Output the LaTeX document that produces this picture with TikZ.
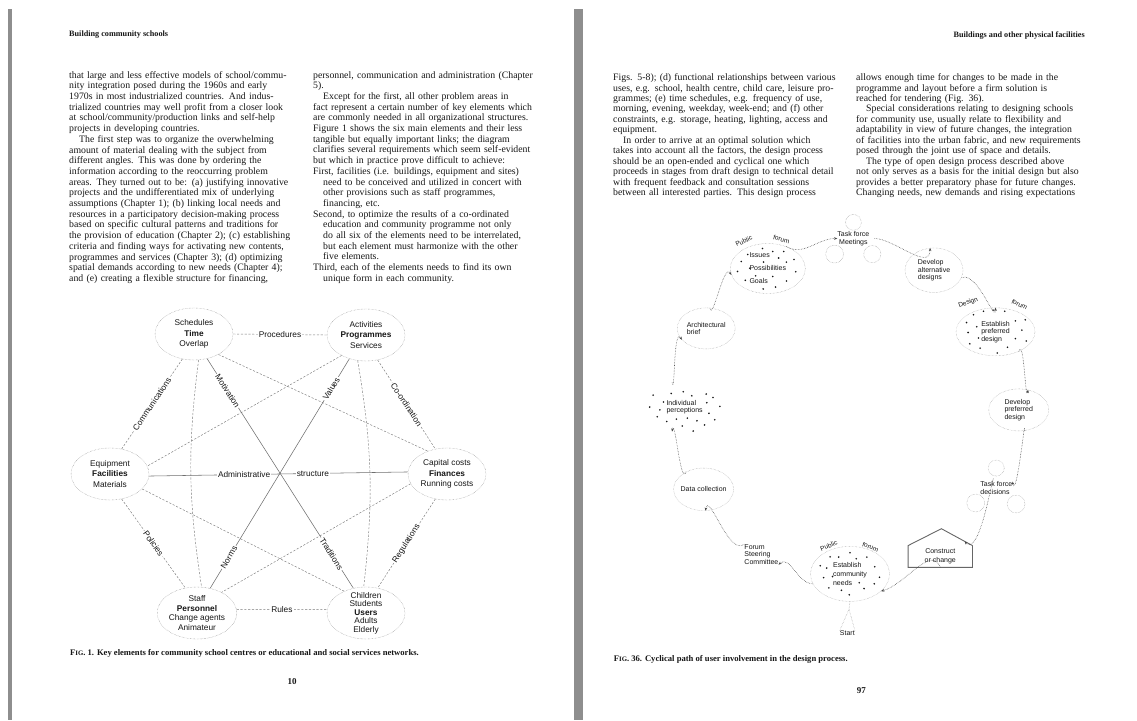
\documentclass[tikz,border=0pt]{standalone}
\usepackage{fontspec}
\setmainfont{Liberation Serif}
\setsansfont{Liberation Sans}
\usetikzlibrary{shapes.geometric,arrows.meta}

\definecolor{ink}{HTML}{161616}
\definecolor{gutter}{HTML}{8E8E8E}
\definecolor{pencil}{HTML}{7A7A7A}

% justified line, indented justified line, indented short line
\newcommand\jl[1]{\makebox[\hsize][s]{#1}}
\newcommand\ji[1]{\hspace*{10pt}\makebox[\dimexpr\hsize-10pt\relax][s]{#1}}
\newcommand\li[1]{\hspace*{10pt}#1}

\tikzset{
  textcol/.style={anchor=north west, inner sep=0pt, text width=#1, align=left, text=ink, font=\fontsize{9.8}{10.7}\selectfont},
  runhead/.style={inner sep=0pt, text=ink, font=\bfseries\fontsize{8.2}{9}\selectfont},
  figcap/.style={anchor=west, inner sep=0pt, text=ink, font=\bfseries\fontsize{8.6}{9}\selectfont},
  folio/.style={inner sep=0pt, text=ink, font=\bfseries\fontsize{9}{10}\selectfont},
  element/.style={ellipse, draw=pencil, densely dotted, minimum width=78pt, minimum height=52pt, inner sep=0pt, align=center, text=ink, font=\sffamily\fontsize{8.3}{10.6}\selectfont},
  link/.style={draw=pencil, dash pattern=on 2.2pt off 1.6pt, line width=0.45pt},
  bond/.style={draw=pencil!90!black, line width=0.55pt},
  linklabel/.style={fill=white, inner sep=1.2pt, text=ink, font=\sffamily\fontsize{8.3}{9}\selectfont},
  stage/.style={ellipse, draw=pencil!80, densely dotted, inner sep=0pt, align=left, text=ink, font=\sffamily\fontsize{7}{7.6}\selectfont},
  note/.style={inner sep=0pt, align=left, text=ink, font=\sffamily\fontsize{7}{7.6}\selectfont},
  arcword/.style={inner sep=0pt, text=ink, font=\sffamily\fontsize{6.5}{7}\selectfont},
  flow/.style={draw=ink!80, densely dotted, line width=0.55pt, -{Stealth[length=3.2pt,width=2.6pt]}},
  huddle/.style={draw=pencil!80, densely dotted, line width=0.45pt},
}

\begin{document}
\begin{tikzpicture}[x=1pt, y=-1pt]
\useasboundingbox (0,0) rectangle (1137,720);

% page edges
\fill[gutter] (8,9) rectangle (12,720);
\fill[gutter] (574,9) rectangle (583,720);

% ---------------- page 10 ----------------
\node[runhead, anchor=west] (headL) at (69,35) {Building community schools};

\node[textcol=228pt] (colA) at (69,71) {%
\jl{that large and less effective models of school/commu-}\\
\jl{nity integration posed during the 1960s and early}\\
\jl{1970s in most industrialized countries. And indus-}\\
\jl{trialized countries may well profit from a closer look}\\
\jl{at school/community/production links and self-help}\\
projects in developing countries.\\
\ji{The first step was to organize the overwhelming}\\
\jl{amount of material dealing with the subject from}\\
\jl{different angles. This was done by ordering the}\\
\jl{information according to the reoccurring problem}\\
\jl{areas. They turned out to be: (a) justifying innovative}\\
\jl{projects and the undifferentiated mix of underlying}\\
\jl{assumptions (Chapter 1); (b) linking local needs and}\\
\jl{resources in a participatory decision-making process}\\
\jl{based on specific cultural patterns and traditions for}\\
\jl{the provision of education (Chapter 2); (c) establishing}\\
\jl{criteria and finding ways for activating new contents,}\\
\jl{programmes and services (Chapter 3); (d) optimizing}\\
\jl{spatial demands according to new needs (Chapter 4);}\\
\jl{and (e) creating a flexible structure for financing,}};

\node[textcol=231pt] (colB) at (313,71) {%
\jl{personnel, communication and administration (Chapter}\\
5).\\
\ji{Except for the first, all other problem areas in}\\
\jl{fact represent a certain number of key elements which}\\
\jl{are commonly needed in all organizational structures.}\\
\jl{Figure 1 shows the six main elements and their less}\\
\jl{tangible but equally important links; the diagram}\\
\jl{clarifies several requirements which seem self-evident}\\
\jl{but which in practice prove difficult to achieve:}\\
\jl{First, facilities (i.e. buildings, equipment and sites)}\\
\ji{need to be conceived and utilized in concert with}\\
\ji{other provisions such as staff programmes,}\\
\li{financing, etc.}\\
\jl{Second, to optimize the results of a co-ordinated}\\
\ji{education and community programme not only}\\
\ji{do all six of the elements need to be interrelated,}\\
\ji{but each element must harmonize with the other}\\
\li{five elements.}\\
\jl{Third, each of the elements needs to find its own}\\
\li{unique form in each community.}};

% figure 1
\node[element] (time) at (194,334) {Schedules\\\textbf{Time}\\Overlap};
\node[element] (prog) at (366,335) {Activities\\\textbf{Programmes}\\Services};
\node[element] (fac) at (110,474) {Equipment\\\textbf{Facilities}\\Materials};
\node[element] (fin) at (447,474) {Capital costs\\\textbf{Finances}\\Running costs};
\node[element, font=\sffamily\fontsize{8.3}{9.5}\selectfont] (pers) at (197,613) {Staff\\\textbf{Personnel}\\Change agents\\Animateur};
\node[element, inner ysep=-5pt, font=\sffamily\fontsize{8.3}{8.5}\selectfont] (users) at (366,613) {Children\\Students\\\textbf{Users}\\Adults\\Elderly};

\draw[link] (time.-40) -- (fin.130);
\draw[link] (prog.-140) -- (fac.12);
\draw[link] (fac.-25) -- (users.135);
\draw[link] (fin.-165) -- (pers.40);
\draw[link] (time.-80) to[bend right=8] (pers.80);
\draw[link] (prog.-108) to[bend left=8] (users.95);

\draw[bond] (fac.-3) -- node[linklabel, pos=0.367] (admin) {Administrative}
  node[linklabel, pos=0.633] (struct) {structure} (fin.177);
\draw[bond] (time.-62) -- node[linklabel, sloped, pos=0.14] (motiv) {Motivation}
  node[linklabel, sloped, pos=0.85] (trad) {Traditions} (users.117);
\draw[bond] (prog.-125) -- node[linklabel, sloped, pos=0.13] (vals) {Values}
  node[linklabel, sloped, pos=0.865] (norms) {Norms} (pers.62);

\draw[link] (time.east) -- node[linklabel] (proc) {Procedures} (prog.west);
\draw[link] (time.-115) -- node[linklabel, sloped] (comm) {Communications} (fac.65);
\draw[link] (prog.-65) -- node[linklabel, sloped] (coord) {Co-ordination} (fin.115);
\draw[link] (fac.-65) -- node[linklabel, sloped] (pol) {Policies} (pers.115);
\draw[link] (fin.-115) -- node[linklabel, sloped] (regs) {Regulations} (users.65);
\draw[link] (pers.5) -- node[linklabel] (rules) {Rules} (users.175);

\node[figcap] (capA) at (70,653) {F{\fontsize{6.8}{7}\selectfont IG}. 1. Key elements for community school centres or educational and social services networks.};
\node[folio] (pageA) at (292,682) {10};

% ---------------- page 97 ----------------
\node[runhead, anchor=east] (headR) at (1085,36) {Buildings and other physical facilities};

\node[textcol=225pt, font=\fontsize{9.8}{10.45}\selectfont] (colC) at (613,73.5) {%
\jl{Figs. 5-8); (d) functional relationships between various}\\
\jl{uses, e.g. school, health centre, child care, leisure pro-}\\
\jl{grammes; (e) time schedules, e.g. frequency of use,}\\
\jl{morning, evening, weekday, week-end; and (f) other}\\
\jl{constraints, e.g. storage, heating, lighting, access and}\\
equipment.\\
\ji{In order to arrive at an optimal solution which}\\
\jl{takes into account all the factors, the design process}\\
\jl{should be an open-ended and cyclical one which}\\
\jl{proceeds in stages from draft design to technical detail}\\
\jl{with frequent feedback and consultation sessions}\\
\jl{between all interested parties. This design process}};

\node[textcol=228pt, font=\fontsize{9.8}{10.45}\selectfont] (colD) at (856,73.5) {%
\jl{allows enough time for changes to be made in the}\\
\jl{programme and layout before a firm solution is}\\
reached for tendering (Fig. 36).\\
\ji{Special considerations relating to designing schools}\\
\jl{for community use, usually relate to flexibility and}\\
\jl{adaptability in view of future changes, the integration}\\
\jl{of facilities into the urban fabric, and new requirements}\\
posed through the joint use of space and details.\\
\ji{The type of open design process described above}\\
\jl{not only serves as a basis for the initial design but also}\\
\jl{provides a better preparatory phase for future changes.}\\
\jl{Changing needs, new demands and rising expectations}};

% figure 36
\node[stage, minimum width=75pt, minimum height=50pt, font=\sffamily\fontsize{7}{13}\selectfont] (forum) at (767.8,268.5) {Issues\\Possibilities\\Goals};
\node[note, align=center] (meet) at (853.4,238.5) {Task force\\Meetings};
\node[stage, minimum width=58pt, minimum height=44.5pt] (devalt) at (934,270.2) {Develop\\alternative\\designs};
\node[stage, minimum width=79pt, minimum height=48pt] (estpref) at (995.5,331.8) {Establish\\preferred\\design};
\node[stage, minimum width=60pt, minimum height=42pt] (devpref) at (1018.7,409.9) {Develop\\preferred\\design};
\node[note] (decide) at (996.4,488.2) {Task force\\decisions};
\node[minimum width=64pt, minimum height=21.3pt, inner sep=0pt, align=center, text=ink, font=\sffamily\fontsize{7}{8.5}\selectfont] (build) at (940.25,556.45) {Construct\\or change};
\coordinate (apex) at (941.4,528.7);
\coordinate (roof) at (964.6,541.5);
\node[stage, minimum width=79pt, minimum height=55pt, font=\sffamily\fontsize{7}{9}\selectfont] (needs) at (850,573.9) {Establish\\community\\needs};
\node[note] (steer) at (761.4,554.4) {Forum\\Steering\\Committee};
\node[stage, minimum width=60pt, minimum height=42.5pt, inner xsep=-2pt] (data) at (703.6,489.3) {Data collection};
\node[stage, draw=none, minimum width=74pt, minimum height=52pt] (perc) at (684.6,407) {Individual\\perceptions};
\node[stage, minimum width=58pt, minimum height=41pt] (arch) at (706.2,328.4) {Architectural\\brief};
\node[note] (start) at (847.3,633.2) {Start};

\node[arcword, rotate=25] (pubA) at (743.8,241.1) {Public};
\node[arcword, rotate=-15] (forA) at (781.5,239.4) {forum};
\node[arcword, rotate=20] (desB) at (968.2,302.7) {Design};
\node[arcword, rotate=-25] (forB) at (1019.5,304.5) {forum};
\node[arcword, rotate=22] (pubC) at (828.8,545.8) {Public};
\node[arcword, rotate=-20] (forC) at (870.5,546.9) {forum};

% task force circles
\draw[huddle] (853.4,222.3) circle (7.9pt) (834.6,254.1) circle (8.9pt) (872.3,254.1) circle (8.6pt);
\draw[huddle] (996.2,468.1) circle (8pt) (975.7,503) circle (8.9pt) (1016.1,504) circle (8.9pt);

% house
\draw[line width=0.9pt, black!60] (build.south west) -- (build.north west) -- (apex) -- (build.north east) -- (build.south east) -- cycle;

% dots
\foreach \dx/\dy in {-5.3/-20,5/-17,16/-17,-20/-14,-4.3/-6.4,10.8/-10.5,18.6/-6.4,26.2/-9,-26.6/-7,-30.3/2.9,-18/-0.2,27.9/3.2,-12.2/7.3,-22.5/11.8,5/8,18.6/12.5,-4.6/20.4,7.7/18.6}
  \fill[ink] (forum) ++(\dx,\dy) circle (0.9pt);
\foreach \dx/\dy in {-22/-17,-12/-20.5,-2.4/-21.6,9.2/-20.5,-29/-9.2,-18.8/-5.1,19.9/-10.9,29.8/-12,-27.4/0.7,-17.1/6.2,26.4/-1.7,19.9/6.8,-25.7/12,30.8/9.2,-15.4/16.4,12/15.4,1.7/21.2}
  \fill[ink] (estpref) ++(\dx,\dy) circle (0.9pt);
\foreach \dx/\dy in {0/-21.2,-19.9/-17.1,-11.3/-16.8,6.2/-15.1,16.8/-16.8,-29.8/-8.2,-23.3/-5.8,24.7/-7.2,-26.4/3.8,-17.5/2.7,29.5/3.4,9.2/8.9,24.3/9.9,-21.2/14,-8.6/16.4,14/14.7,-0.7/20.9}
  \fill[ink] (needs) ++(\dx,\dy) circle (0.9pt);
\foreach \px/\py in {653.1/395.1,671.2/393.4,683.2/391.7,691.8/395.8,706.2/394.1,713/397.5,663.4/402,706.8/402.7,649.7/407.1,659.9/409.9,719.9/406.4,708.9/413.3,657.2/416.7,666.8/421.5,676.4/419.1,687.3/418.1,696.9/420.8,704.5/424.9,714.7/419.8,682.2/426,693.2/431.1}
  \fill[ink] (\px,\py) circle (0.9pt);

% cycle
\draw[flow] (arch.80) to[out=-80, in=120] (forum.190);
\draw[flow] (forum.50) to[out=-30, in=180] (meet.west);
\draw[flow, shorten <=5pt] (meet.east) to[out=0, in=-90] (devalt.100);
\draw[flow] (devalt.-15) to[out=20, in=-90] (estpref.north);
\draw[flow] (estpref.-40) to[out=70, in=-100] (devpref.65);
\draw[flow] (devpref.-75) to[out=85, in=-80] (decide.north east);
\draw[flow, shorten <=16pt] (decide.south) to[out=100, in=-45] (roof);
\draw[flow] (build.south) to[out=110, in=15] (needs.-29);
\draw[flow] (needs.-165) to[out=180, in=40] (steer.south east);
\draw[flow] (steer.north west) to[out=-140, in=80] (data.-85);
\draw[flow] (data.135) to[out=-110, in=80] (perc.-117);
\draw[flow] (perc.117) to[out=-80, in=120] (arch.-155);

% start
\coordinate (fork) at (849,609.2);
\draw[huddle] (needs.south) -- (fork);
\draw[huddle] (start.north west) -- (fork) -- (start.north east);

\node[figcap] (capB) at (613.7,659.5) {F{\fontsize{6.8}{7}\selectfont IG}. 36. Cyclical path of user involvement in the design process.};
\node[folio] (pageB) at (861.3,690.3) {97};
\end{tikzpicture}
\end{document}
